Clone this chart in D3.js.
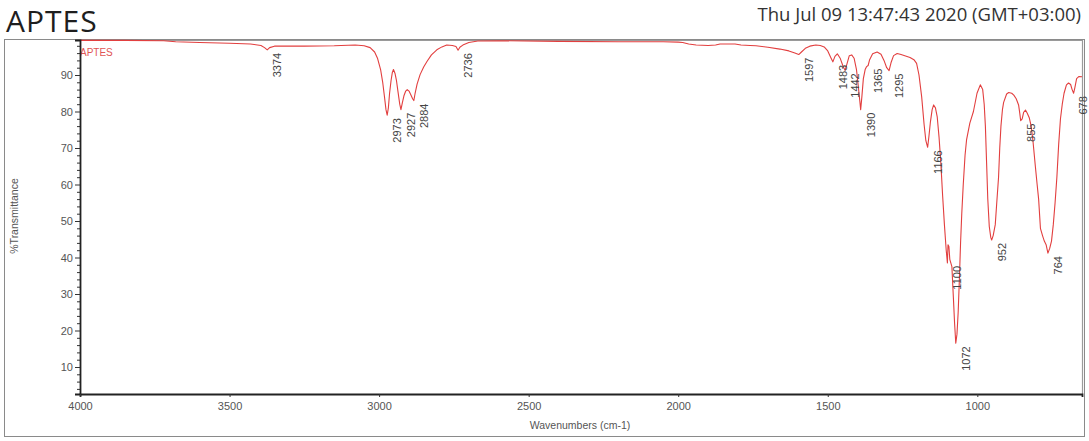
<!DOCTYPE html>
<html>
<head>
<meta charset="utf-8">
<script src="https://cdn.jsdelivr.net/npm/d3@7/dist/d3.min.js"></script>
<style>
  html, body { margin: 0; padding: 0; background: #fff; }
  svg { display: block; }
</style>
</head>
<body>
<svg id="chart" width="1089" height="441"></svg>
<script>
// ---- Data ----
const title = "APTES";
const timestamp = "Thu Jul 09 13:47:43 2020 (GMT+03:00)";
const seriesName = "APTES";
const xAxisTitle = "Wavenumbers (cm-1)";
const yAxisTitle = "%Transmittance";
const xTicks = [4000, 3500, 3000, 2500, 2000, 1500, 1000];
const yTicks = [10, 20, 30, 40, 50, 60, 70, 80, 90];

const wavenumbers = [4000,3850,3720,3680,3600,3500,3430,3395,3383,3374,3366,3350,3250,3150,3080,3050,3030,3015,3005,2995,2988,2982,2977,2973,2969,2965,2960,2956,2952,2947,2942,2937,2931,2927,2922,2917,2911,2906,2900,2894,2888,2884,2880,2873,2863,2851,2840,2825,2807,2790,2774,2755,2743,2736,2730,2720,2700,2670,2600,2400,2200,2050,2000,1985,1965,1940,1900,1875,1860,1810,1790,1760,1740,1700,1660,1630,1610,1597,1588,1575,1560,1540,1525,1512,1500,1490,1483,1476,1468,1458,1448,1442,1436,1428,1420,1412,1404,1398,1393,1390,1386,1381,1375,1370,1365,1360,1350,1335,1322,1312,1303,1295,1288,1280,1268,1255,1240,1225,1212,1203,1195,1186,1178,1172,1166,1162,1157,1151,1146,1140,1134,1128,1122,1116,1110,1104,1100,1098,1095,1092,1085,1080,1076,1072,1068,1064,1060,1056,1052,1047,1041,1036,1025,1013,1001,990,982,977,973,969,965,960,955,952,947,940,935,929,925,921,916,912,902,895,885,878,870,862,858,855,850,845,839,833,826,820,814,806,800,795,789,782,776,770,764,758,752,746,740,734,728,722,716,710,702,695,688,683,678,674,668,660,650];
const transmittance = [99.5,99.5,99.4,99.1,98.9,98.7,98.5,98.1,97.5,96.9,97.5,97.9,97.9,98.0,98.2,98.0,97.5,96.3,94.5,91.5,88,84,80.5,79,81,85,88.5,90.6,91.5,90.5,88.5,85.5,82,80.5,82.5,84.3,85.6,86,85.6,84.6,83.5,83,84.8,87.5,90.1,92.2,93.7,95.5,96.9,97.7,98.2,98.1,97.8,96.8,97.6,98.2,98.9,99.3,99.4,99.2,99.1,99.1,99.0,98.9,98.5,98.2,98.1,98.2,98.5,98.5,98.2,98.1,98.0,97.6,97.1,96.6,96.0,95.6,96.3,97.3,97.9,98.2,98.1,97.7,96.6,94.8,93.6,95.1,95.8,94.5,92.2,91.3,93,95.3,95.5,94.6,91.5,87,83,80.5,84,89,91.5,92.3,92.6,94.2,95.8,96.3,95.7,94,92,91.2,93.5,95.3,95.9,95.6,95.2,94.8,94.2,93.2,90,84,76.5,72,70.2,73,77,80.5,81.8,81,78.5,73,66,57,49,42,38.5,43.5,43,39.5,37.5,29,22,16.5,19,25,34,44,52,60,68,72.2,76.8,80,85,87.3,86,82,76,66,56,48.5,45.5,44.8,46,49,55,62,70,76,80.5,82.5,84.8,85.2,85,84.5,83.5,81.8,79.5,77.5,78,79.8,80.4,79.5,78.2,76,72,65,60,56,48,46,44.5,43.5,41.2,42.5,44.5,49,55,62,71,78,82,85,87.3,87.8,87.4,86,85,86.5,89,89.6,89.5];
const peakLabels = [3374, 2973, 2927, 2884, 2736, 1597, 1483, 1442, 1390, 1365, 1295, 1166, 1100, 1072, 952, 855, 764, 678];

// ---- Layout ----
const svg = d3.select("#chart");
const plot = { left: 80, right: 1082, top: 40, bottom: 394 };

const x = d3.scaleLinear().domain([4000, 650]).range([plot.left, plot.right]);
const y = d3.scaleLinear().domain([10, 90]).range([367, 75]);
// extend y domain to the plot box
y.domain([y.invert(plot.bottom), y.invert(plot.top)]).range([plot.bottom, plot.top]);

const textFont = "'Open Sans', 'Liberation Sans', sans-serif";
const smallFont = "'Liberation Sans', 'DejaVu Sans', sans-serif";

// Outer frame
svg.append("rect")
  .attr("x", 4.5).attr("y", 39.5).attr("width", 1080).attr("height", 397)
  .attr("fill", "none").attr("stroke", "#8a8a8a").attr("stroke-width", 1);

// Title & timestamp
svg.append("text").attr("x", 6).attr("y", 32)
  .attr("font-family", textFont).attr("font-size", 30).attr("letter-spacing", 1)
  .attr("fill", "#1e1e1e")
  .text(title);
svg.append("text").attr("x", 1081).attr("y", 21).attr("text-anchor", "end")
  .attr("font-family", textFont).attr("font-size", 18.5).attr("fill", "#333")
  .text(timestamp);

// Plot box (top & right)
svg.append("line").attr("x1", plot.left).attr("x2", plot.right + 1)
  .attr("y1", plot.top + 0.5).attr("y2", plot.top + 0.5)
  .attr("stroke", "#9a9a9a").attr("stroke-width", 1.2);
svg.append("line").attr("x1", plot.right + 0.5).attr("x2", plot.right + 0.5)
  .attr("y1", plot.top).attr("y2", plot.bottom)
  .attr("stroke", "#9a9a9a").attr("stroke-width", 1.2);

// Spectrum
const pts = wavenumbers.map((w, i) => [w, transmittance[i]]);
const line = d3.line().x(d => x(d[0])).y(d => y(d[1]));
svg.append("path").datum(pts)
  .attr("d", line).attr("fill", "none")
  .attr("stroke", "#e23f3f").attr("stroke-width", 1.1).attr("stroke-linejoin", "round");

// Series name
svg.append("text").attr("x", 80).attr("y", 56)
  .attr("font-family", smallFont).attr("font-size", 10).attr("fill", "#e05555")
  .text(seriesName);

// Y axis
const yMinor = d3.range(4, 100, 2).filter(v => v % 10 !== 0);
const yAxisMinor = d3.axisLeft(y).tickValues(yMinor).tickSize(3).tickFormat("");
const yAxis = d3.axisLeft(y).tickValues(yTicks).tickSize(5).tickPadding(2);
svg.append("g").attr("transform", `translate(${plot.left},0)`).call(yAxisMinor)
  .call(g => g.select(".domain").remove())
  .call(g => g.selectAll("line").attr("stroke", "#333"));
const gy = svg.append("g").attr("transform", `translate(${plot.left},0)`).call(yAxis);
gy.select(".domain").attr("stroke", "#222").attr("stroke-width", 1.8);
gy.selectAll("line").attr("stroke", "#333");
gy.selectAll("text").attr("font-family", smallFont).attr("font-size", 11).attr("fill", "#555");

// X axis
const xAxis = d3.axisBottom(x).tickValues(xTicks).tickSize(3).tickPadding(5).tickFormat(d3.format("d"));
const gx = svg.append("g").attr("transform", `translate(0,${plot.bottom})`).call(xAxis);
gx.select(".domain").attr("stroke", "#222").attr("stroke-width", 1.8);
gx.selectAll("line").attr("stroke", "#333");
gx.selectAll("text").attr("font-family", smallFont).attr("font-size", 11).attr("fill", "#555");

// Axis titles
svg.append("text").attr("x", 580).attr("y", 429)
  .attr("text-anchor", "middle").attr("font-family", smallFont).attr("font-size", 10.5).attr("fill", "#555")
  .text(xAxisTitle);
svg.append("text")
  .attr("transform", `translate(18,216) rotate(-90)`)
  .attr("text-anchor", "middle").attr("font-family", smallFont).attr("font-size", 10.5).attr("fill", "#555")
  .text(yAxisTitle);

// Peak labels
const tAt = w => transmittance[wavenumbers.indexOf(w)];
svg.append("g").selectAll("text").data(peakLabels).join("text")
  .attr("transform", d => `translate(${x(d) + 10},${y(tAt(d)) + 3}) rotate(-90)`)
  .attr("text-anchor", "end").attr("dy", "0.35em")
  .attr("font-family", smallFont).attr("font-size", 11).attr("fill", "#444")
  .text(d => d);
</script>
</body>
</html>
